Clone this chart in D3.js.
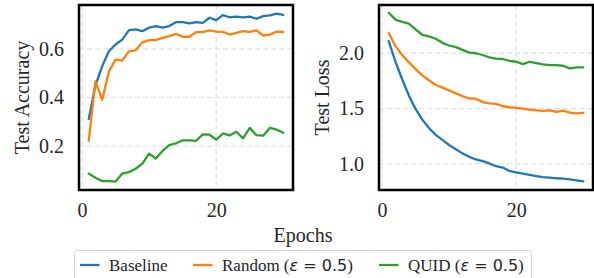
<!DOCTYPE html>
<html>
<head>
<meta charset="utf-8">
<script src="https://cdn.jsdelivr.net/npm/d3@7"></script>
<style>
body { margin: 0; background: #fff; }
svg { display: block; }
text { font-family: "Liberation Serif", "Times New Roman", serif; fill: #262626; }
.math { font-family: "DejaVu Sans", sans-serif; }
</style>
</head>
<body>
<svg id="chart" width="594" height="278"></svg>
<script>
var epochs = d3.range(1, 31);

var accBaseline = [0.311, 0.45, 0.528, 0.59, 0.618, 0.638, 0.677, 0.68, 0.673, 0.687,
	0.694, 0.687, 0.694, 0.71, 0.71, 0.705, 0.71, 0.707, 0.728, 0.718,
	0.739, 0.73, 0.733, 0.73, 0.733, 0.724, 0.735, 0.738, 0.745, 0.74];
var accRandom = [0.222, 0.466, 0.39, 0.507, 0.556, 0.552, 0.59, 0.594, 0.627, 0.636,
	0.636, 0.645, 0.652, 0.662, 0.65, 0.65, 0.669, 0.669, 0.676, 0.671,
	0.67, 0.659, 0.666, 0.673, 0.67, 0.676, 0.655, 0.659, 0.671, 0.669];
var accQuid = [0.087, 0.07, 0.056, 0.056, 0.054, 0.087, 0.093, 0.107, 0.128, 0.169,
	0.149, 0.18, 0.204, 0.211, 0.224, 0.224, 0.222, 0.248, 0.247, 0.227,
	0.252, 0.244, 0.259, 0.232, 0.275, 0.245, 0.243, 0.275, 0.268, 0.255];

var lossBaseline = [2.11, 1.923, 1.765, 1.619, 1.497, 1.40, 1.324, 1.262, 1.217, 1.171,
	1.132, 1.095, 1.064, 1.04, 1.025, 1.004, 0.979, 0.967, 0.936, 0.924,
	0.912, 0.90, 0.89, 0.881, 0.876, 0.87, 0.867, 0.86, 0.851, 0.842];
var lossRandom = [2.186, 2.064, 1.984, 1.918, 1.856, 1.80, 1.756, 1.713, 1.689, 1.664,
	1.637, 1.612, 1.591, 1.589, 1.558, 1.546, 1.543, 1.521, 1.512, 1.506,
	1.50, 1.49, 1.484, 1.479, 1.484, 1.47, 1.482, 1.463, 1.457, 1.461];
var lossQuid = [2.366, 2.304, 2.283, 2.268, 2.216, 2.167, 2.152, 2.131, 2.094, 2.07,
	2.055, 2.03, 2.005, 2.0, 1.984, 1.963, 1.951, 1.948, 1.932, 1.923,
	1.902, 1.923, 1.911, 1.899, 1.893, 1.893, 1.887, 1.863, 1.872, 1.872];

var xTicks = [0, 20];
var accTicks = [0.2, 0.4, 0.6];
var lossTicks = [1.0, 1.5, 2.0];

var seriesNames = ['Baseline', 'Random', 'QUID'];
var colors = ['#1f77b4', '#ff7f0e', '#2ca02c'];

var serif = '"Liberation Serif", "Times New Roman", serif';
var svg = d3.select('#chart');
var top_ = 5, bottom_ = 190;

function createPanel(left, right, series, yDomain, yTicks, yTitle, titleX)
{
	var x = d3.scaleLinear().domain([-0.45, 31.45]).range([left, right]);
	var y = d3.scaleLinear().domain(yDomain).range([bottom_, top_]);

	var g = svg.append('g');

	// grid
	g.selectAll('.vgrid').data(xTicks).enter()
	.append('line')
	.attr('x1', function(d){ return x(d); })
	.attr('x2', function(d){ return x(d); })
	.attr('y1', top_).attr('y2', bottom_)
	.attr('stroke', '#e2e2e2').attr('stroke-width', 1.3)
	.attr('stroke-dasharray', '5,3');

	g.selectAll('.hgrid').data(yTicks).enter()
	.append('line')
	.attr('x1', left).attr('x2', right)
	.attr('y1', function(d){ return y(d); })
	.attr('y2', function(d){ return y(d); })
	.attr('stroke', '#e2e2e2').attr('stroke-width', 1.3)
	.attr('stroke-dasharray', '5,3');

	var line = d3.line()
	.x(function(d, i){ return x(epochs[i]); })
	.y(function(d){ return y(d); });

	for(var i=0;i<series.length;i++)
	{
		g.append('path')
		.attr('d', line(series[i]))
		.attr('fill', 'none')
		.attr('stroke', colors[i])
		.attr('stroke-width', 2.3)
		.attr('stroke-linejoin', 'round')
		.attr('stroke-linecap', 'round');
	}

	// axes: labels only, no tick marks
	var xAxis = d3.axisBottom(x).tickValues(xTicks).tickSize(0).tickPadding(13);
	g.append('g').attr('transform', 'translate(0,' + bottom_ + ')').call(xAxis)
	.attr('font-family', serif).attr('font-size', 20)
	.call(function(a){ a.select('.domain').remove(); })
	.selectAll('text').attr('fill', '#262626');

	var yAxis = d3.axisLeft(y).tickValues(yTicks).tickFormat(d3.format('.1f')).tickSize(0).tickPadding(15);
	g.append('g').attr('transform', 'translate(' + left + ',0)').call(yAxis)
	.attr('font-family', serif).attr('font-size', 20)
	.call(function(a){ a.select('.domain').remove(); })
	.selectAll('text').attr('fill', '#262626');

	// frame
	g.append('rect')
	.attr('x', left).attr('y', top_)
	.attr('width', right-left).attr('height', bottom_-top_)
	.attr('fill', 'none').attr('stroke', '#000').attr('stroke-width', 2.5);

	g.append('text')
	.attr('transform', 'translate(' + titleX + ',' + ((top_+bottom_)/2) + ') rotate(-90)')
	.attr('text-anchor', 'middle')
	.attr('dy', '0.35em')
	.attr('font-family', serif)
	.attr('font-size', 20)
	.text(yTitle);
}

createPanel(79, 293, [accBaseline, accRandom, accQuid], [0.0195, 0.7805], accTicks, 'Test Accuracy', 22);
createPanel(379, 593, [lossBaseline, lossRandom, lossQuid], [0.764, 2.436], lossTicks, 'Test Loss', 322);

svg.append('text')
.attr('x', 303).attr('y', 242)
.attr('text-anchor', 'middle')
.attr('font-family', serif)
.attr('font-size', 20)
.text('Epochs');

// legend
var legend = svg.append('g');
legend.append('rect')
.attr('x', 74.5).attr('y', 250.5)
.attr('width', 457).attr('height', 40)
.attr('rx', 3)
.attr('fill', '#fff').attr('stroke', '#d6d6d6').attr('stroke-width', 1);

var legendX = [80, 193, 379];
for(var i=0;i<seriesNames.length;i++)
{
	legend.append('line')
	.attr('x1', legendX[i]).attr('x2', legendX[i]+19.5)
	.attr('y1', 265).attr('y2', 265)
	.attr('stroke', colors[i]).attr('stroke-width', 2.3);

	var t = legend.append('text')
	.attr('x', legendX[i]+29).attr('y', 271)
	.attr('font-family', serif)
	.attr('font-size', 17);
	t.append('tspan').text(seriesNames[i]);
	if(i>0)
	{
		t.append('tspan').text(' (');
		t.append('tspan').attr('class', 'math').attr('font-family', 'DejaVu Sans').attr('font-style', 'italic').attr('font-size', 16).text('ε');
		t.append('tspan').attr('class', 'math').attr('font-family', 'DejaVu Sans').attr('font-size', 16).text(' = 0.5');
		t.append('tspan').text(')');
	}
}
</script>
</body>
</html>
